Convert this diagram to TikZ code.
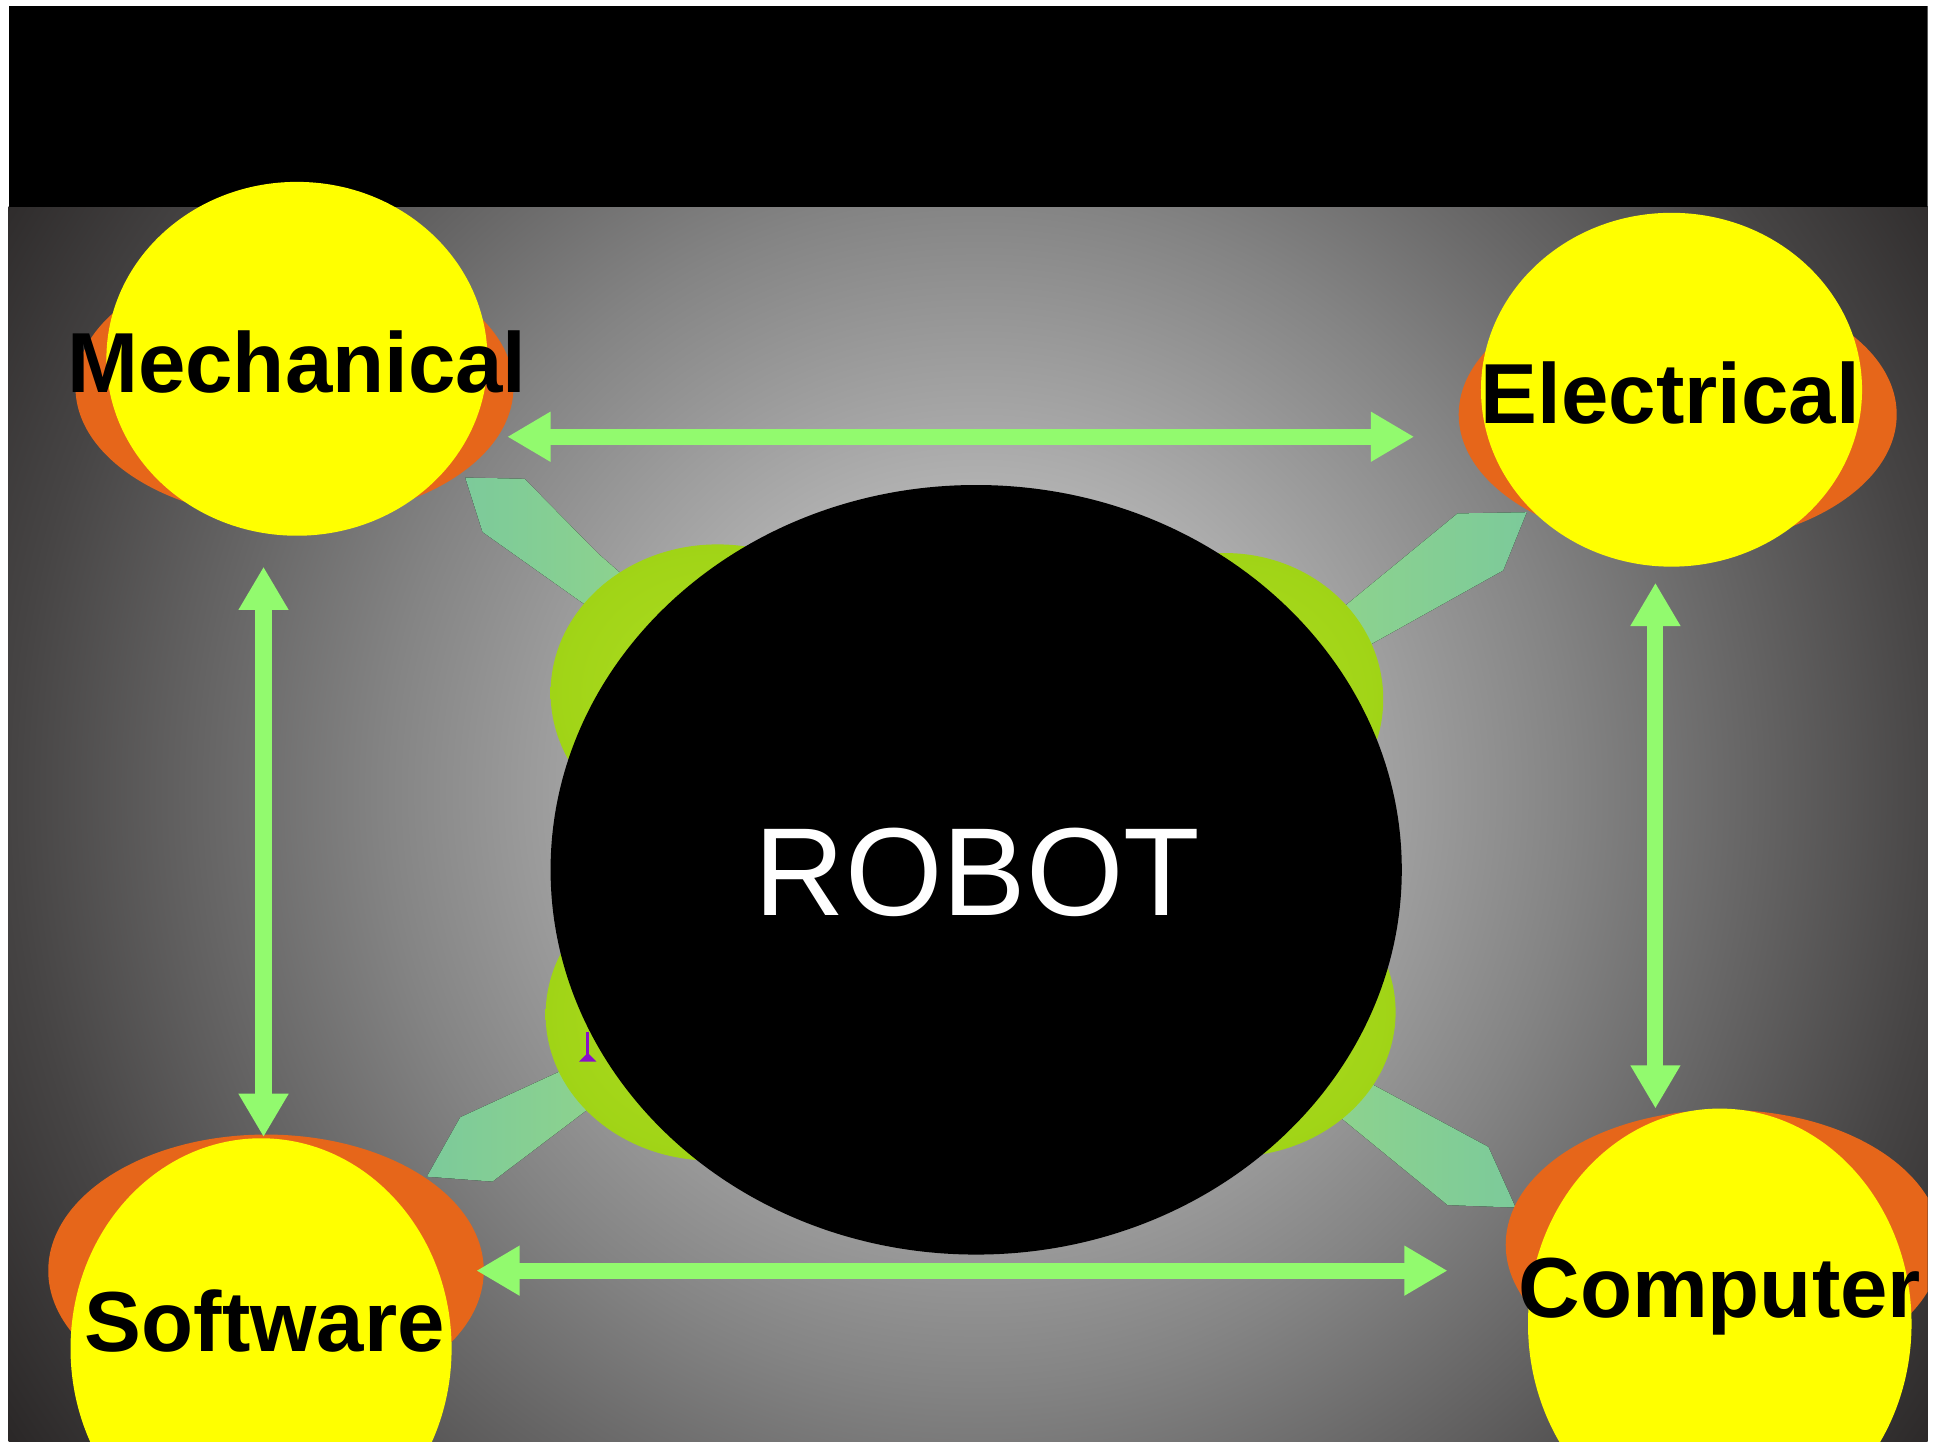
\documentclass[tikz,border=0pt]{standalone}
\usepackage{fontspec}
\setmainfont{Liberation Sans}
\usetikzlibrary{arrows.meta}
\definecolor{bgA}{HTML}{C2C2C2}
\definecolor{bgB}{HTML}{B0B0B0}
\definecolor{bgC}{HTML}{848484}
\definecolor{bgD}{HTML}{464444}
\definecolor{bgE}{HTML}{2B2828}
\definecolor{sunyellow}{HTML}{FFFF00}
\definecolor{sunorange}{HTML}{E6661A}
\definecolor{arrowgreen}{HTML}{92FA6E}
\definecolor{mintA}{HTML}{7CCA9A}
\definecolor{mintB}{HTML}{90D48C}
\definecolor{blobA}{HTML}{AEDC22}
\definecolor{blobB}{HTML}{A0D416}
\definecolor{glyphpurple}{HTML}{8A10C8}
\pgfdeclareradialshading{bgshade}{\pgfpointorigin}{color(0bp)=(bgA); color(6.6bp)=(bgB); color(12.6bp)=(bgC); color(20.5bp)=(bgD); color(24.7bp)=(bgE); color(50bp)=(bgE)}
\tikzset{
  link/.style={draw=arrowgreen, line width=1.3mm, <->, >={Triangle[length=3.5mm,width=3.8mm]}},
  label/.style={anchor=base, inner sep=0pt, text=black, font=\fontsize{19.6}{23}\selectfont\bfseries},
  blob/.style={inner color=blobA, outer color=blobB},
  shell/.style={fill=sunorange},
  core/.style={fill=sunyellow}
}
\begin{document}
\begin{tikzpicture}[x=0.1mm, y=-0.1mm]
\useasboundingbox (0,0) rectangle (1568,1165);
\fill[white] (0,0) rectangle (1568,1165);
\begin{scope}
\clip (7,5) rectangle (1558,1165);
% background
\begin{scope}
\clip (7,167) rectangle (1558,1165);
\shade[shading=bgshade] (-160,-310) rectangle (1740,1590);
\end{scope}
\fill[black] (7,5) rectangle (1558,167);
% mint connectors
\fill[left color=mintA, right color=mintB] (376,386) -- (424,387) -- (483,447) -- (530,488) -- (500,508) -- (390,430) -- cycle;
\fill[left color=mintB, right color=mintA] (1055,516) -- (1178,415) -- (1234,414) -- (1215,461) -- (1070,542) -- cycle;
\fill[left color=mintA, right color=mintB] (485,851) -- (372,903) -- (345,951) -- (398,955) -- (505,874) -- cycle;
\fill[left color=mintB, right color=mintA] (1075,858) -- (1203,927) -- (1225,976) -- (1170,974) -- (1055,880) -- cycle;
% green blobs
\shade[blob] (580,560) ellipse [x radius=135, y radius=120];
\shade[blob] (990,565) ellipse [x radius=128, y radius=118];
\shade[blob] (575,820) ellipse [x radius=134, y radius=118];
\shade[blob] (995,818) ellipse [x radius=133, y radius=117];
% purple glyph
\draw[glyphpurple, line width=0.25mm] (475,834) -- (475,854);
\fill[glyphpurple] (468,858) -- (482,858) -- (475,851) -- cycle;
% robot
\fill[black] (789,703) ellipse [x radius=344, y radius=311];
\node[anchor=base, inner sep=0pt, text=white, font=\fontsize{28.8}{34}\selectfont] (robot) at (790,740) {ROBOT};
% corner spheres
\fill[shell] (238,313) ellipse [x radius=177, y radius=107];
\fill[core] (240,290) ellipse [x radius=154, y radius=143];
\fill[shell] (1356,335) ellipse [x radius=177, y radius=106];
\fill[core] (1351,315) ellipse [x radius=154, y radius=143];
\fill[shell] (215,1027) ellipse [x radius=176, y radius=110];
\fill[core] (211,1090) ellipse [x radius=154, y radius=170];
\fill[shell] (1393,1006) ellipse [x radius=176, y radius=109];
\fill[core] (1390,1070) ellipse [x radius=155, y radius=174];
\node[label] (mech) at (240,317) {Mechanical};
\node[label] (elec) at (1350,342) {Electrical};
\node[label] (soft) at (214,1092) {Software};
\node[label] (comp) at (1390,1065) {Computer};
% arrow ends
\coordinate (tA) at (410,353);
\coordinate (tB) at (1143,353);
\coordinate (bA) at (385,1027);
\coordinate (bB) at (1170,1027);
\coordinate (lA) at (213,458);
\coordinate (lB) at (213,919);
\coordinate (rA) at (1338,471);
\coordinate (rB) at (1338,896);
\draw[link] (tA) -- (tB);
\draw[link] (bA) -- (bB);
\draw[link] (lA) -- (lB);
\draw[link] (rA) -- (rB);
\end{scope}
\end{tikzpicture}
\end{document}
